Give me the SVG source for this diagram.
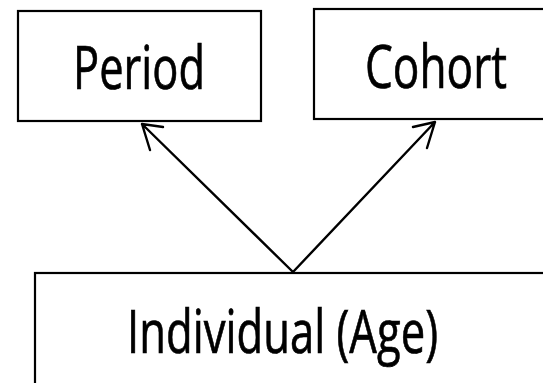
<svg xmlns="http://www.w3.org/2000/svg" width="543" height="383" viewBox="0 0 543 383">
<style>
.box{fill:#fff;stroke:#000;stroke-width:2.2}
.lbl{font-family:"Open Sans","Liberation Sans",sans-serif;font-size:61px;fill:#000;stroke:#000;stroke-width:0.7}
.edge{stroke:#000;stroke-width:2.4;fill:none;stroke-linecap:round;stroke-linejoin:round}
</style>
<rect width="543" height="383" fill="#fff"/>
<g id="period">
<rect class="box" x="18" y="11" width="243" height="110"/>
<text class="lbl" x="73" y="89" textLength="132" lengthAdjust="spacingAndGlyphs">Period</text>
</g>
<g id="cohort">
<rect class="box" x="314" y="9" width="240" height="110"/>
<text class="lbl" x="365" y="88" textLength="142" lengthAdjust="spacingAndGlyphs">Cohort</text>
</g>
<g id="individual">
<rect class="box" x="35" y="273" width="520" height="130"/>
<text class="lbl" x="127" y="353" textLength="311" lengthAdjust="spacingAndGlyphs">Individual (Age)</text>
</g>
<g id="connectors">
<path class="edge" d="M293,272 L142,124 M163,127 L142,124 L150,150"/>
<path class="edge" d="M293,272 L435,122 M413,127 L435,122 L427,148"/>
</g>
</svg>
